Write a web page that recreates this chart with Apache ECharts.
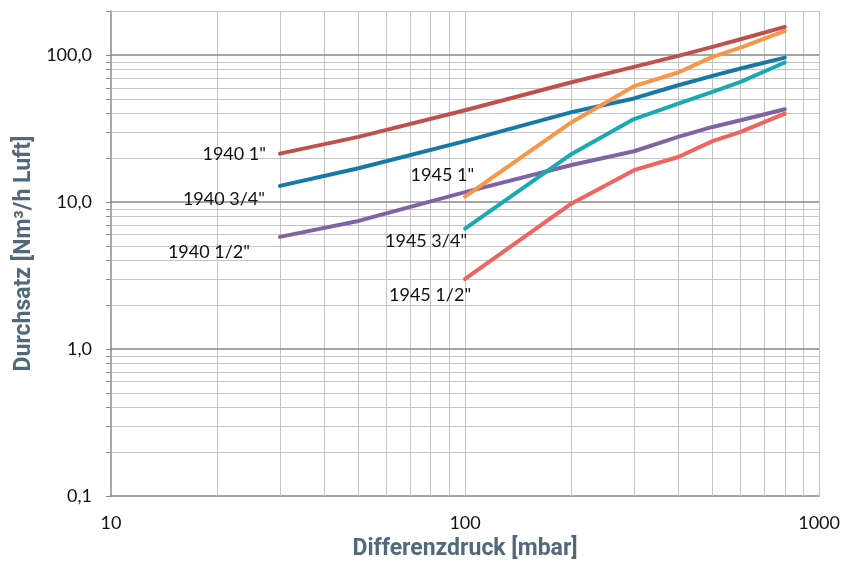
<!DOCTYPE html>
<html>
<head>
<meta charset="utf-8">
<script src="https://cdn.jsdelivr.net/npm/echarts@6/dist/echarts.min.js"></script>
<style>html,body{margin:0;padding:0;background:#fff}#c{width:843px;height:570px}</style>
</head>
<body>
<div id="c"></div>
<script>
// ---- data ----
const seriesNames = ['1940 1"', '1940 3/4"', '1940 1/2"', '1945 1"', '1945 3/4"', '1945 1/2"'];
const x1940 = [30, 50, 100, 200, 300, 400, 500, 600, 800];
const y1940_1 = [21.4, 27.8, 42.2, 65.5, 83.3, 99, 114, 128.5, 156];
const y1940_34 = [12.9, 17.0, 26.0, 41.0, 50.8, 62.5, 72.3, 81.2, 96.4];
const y1940_12 = [5.8, 7.45, 11.7, 17.9, 22.2, 27.8, 32.5, 36.1, 42.9];
const x1945 = [100, 200, 300, 400, 500, 600, 800];
const y1945_1 = [10.9, 35, 61.6, 76.3, 97.4, 112.8, 146.3];
const y1945_34 = [6.6, 21.3, 36.8, 46.9, 56.3, 65.9, 89.2];
const y1945_12 = [3.0, 9.8, 16.5, 20.3, 26.0, 30.1, 40.1];
const xTicks = [10, 100, 1000];
const yTicks = [0.1, 1, 10, 100];
const xMinorGrid = [20, 30, 40, 50, 60, 70, 80, 90, 200, 300, 400, 500, 600, 700, 800, 900, 1000];
const yMinorGrid = [0.2, 0.3, 0.4, 0.5, 0.6, 0.7, 0.8, 0.9, 2, 3, 4, 5, 6, 7, 8, 9, 20, 30, 40, 50, 60, 70, 80, 90, 200];
const yMajorGrid = [1, 10, 100];

// ---- styles ----
const colors = ['#c0504d', '#1779a6', '#8064a2', '#f79646', '#19a9b3', '#ef645e'];
const labelOffsets = [[-14, 1], [-15, 13], [-30, 15], [9, -21], [2, 13], [6, 16]];
const xs = [x1940, x1940, x1940, x1945, x1945, x1945];
const ys = [y1940_1, y1940_34, y1940_12, y1945_1, y1945_34, y1945_12];
const FONT = 'Lato, "Open Sans", sans-serif';
const TITLE_FONT = 'Roboto, "Liberation Sans", sans-serif';
const minorColor = '#c4c4c4';
const majorColor = '#888888';

const lineSeries = seriesNames.map((name, i) => ({
  name: name,
  type: 'line',
  z: 3,
  symbol: 'circle',
  symbolSize: 0,
  showSymbol: true,
  lineStyle: { color: colors[i], width: 4, cap: 'round', join: 'round' },
  itemStyle: { color: colors[i] },
  label: { show: false },
  data: xs[i].map((x, j) => {
    const p = { value: [x, ys[i][j]] };
    if (j === 0) {
      p.label = {
        show: true, formatter: name, position: 'left', distance: 0,
        offset: labelOffsets[i], color: '#111', fontSize: 18, fontFamily: FONT
      };
    }
    return p;
  })
}));

const gridSeries = {
  type: 'line',
  data: [],
  silent: true,
  markLine: {
    silent: true,
    z: 1,
    symbol: 'none',
    animation: false,
    label: { show: false },
    emphasis: { disabled: true },
    data: [].concat(
      xMinorGrid.map(v => ({ xAxis: v, lineStyle: { color: minorColor, width: 1, type: 'solid' } })),
      [{ xAxis: 100, lineStyle: { color: minorColor, width: 1, type: 'solid' } }],
      yMinorGrid.map(v => ({ yAxis: v, lineStyle: { color: minorColor, width: 1, type: 'solid' } })),
      yMajorGrid.map(v => ({ yAxis: v, lineStyle: { color: majorColor, width: 1.5, type: 'solid' } }))
    )
  }
};

const chart = echarts.init(document.getElementById('c'), null, { renderer: 'canvas' });
chart.setOption({
  animation: false,
  backgroundColor: '#fff',
  grid: { left: 111, right: 23, top: 11, bottom: 74, containLabel: false },
  xAxis: {
    type: 'log', logBase: 10, min: xTicks[0], max: xTicks[xTicks.length - 1],
    name: 'Differenzdruck [mbar]', nameLocation: 'middle', nameGap: 42,
    nameTextStyle: { color: '#51697a', fontSize: 23, fontWeight: 'bold', fontFamily: TITLE_FONT },
    axisLine: { show: true, lineStyle: { color: majorColor, width: 1.5 } },
    axisTick: { show: false },
    splitLine: { show: false },
    axisLabel: { color: '#111', fontSize: 18, fontFamily: FONT, margin: 18,
      formatter: v => String(Math.round(v)) }
  },
  yAxis: {
    type: 'log', logBase: 10, min: yTicks[0], max: 200,
    name: 'Durchsatz [Nm³/h Luft]', nameLocation: 'middle', nameGap: 74, nameRotate: 90,
    nameTextStyle: { color: '#51697a', fontSize: 23, fontWeight: 'bold', fontFamily: TITLE_FONT },
    axisLine: { show: true, lineStyle: { color: majorColor, width: 1.5 } },
    axisTick: { show: true, length: 5, lineStyle: { color: majorColor, width: 1 },
      customValues: yTicks.concat(yMinorGrid) },
    splitLine: { show: false },
    axisLabel: {
      color: '#111', fontSize: 18, fontFamily: FONT, margin: 19,
      customValues: yTicks,
      formatter: v => Number(v).toFixed(1).replace('.', ',')
    }
  },
  series: [gridSeries].concat(lineSeries)
});
</script>
</body>
</html>
